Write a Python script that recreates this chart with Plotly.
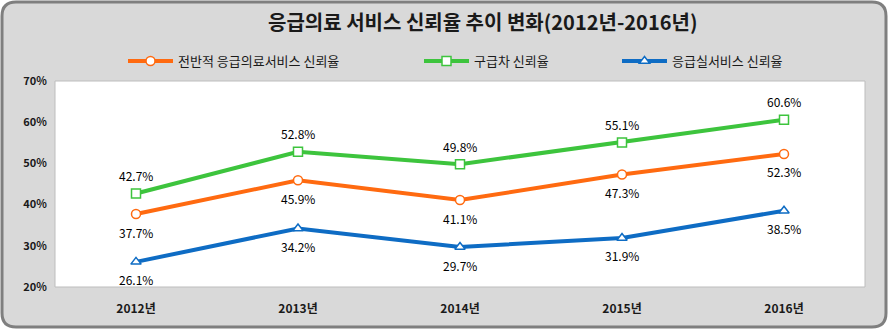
import plotly.graph_objects as go

# Survey years and trust rates (%)
years = ["2012년", "2013년", "2014년", "2015년", "2016년"]
overall_trust = [37.7, 45.9, 41.1, 47.3, 52.3]
ambulance_trust = [42.7, 52.8, 49.8, 55.1, 60.6]
er_trust = [26.1, 34.2, 29.7, 31.9, 38.5]

series_names = ["전반적 응급의료서비스 신뢰율", "구급차 신뢰율", "응급실서비스 신뢰율"]
series_values = [overall_trust, ambulance_trust, er_trust]
series_colors = ["#FF6A10", "#3DC43D", "#0E6CC4"]
series_symbols = ["circle", "square", "triangle-up"]
label_shift = [-18, 18, -18]
legend_ids = ["legend", "legend2", "legend3"]
legend_left_px = [123, 419, 617]

W, H = 889, 330
ML, MR, MT, MB = 55, 24, 81, 43
PW, PH = W - ML - MR, H - MT - MB

FONT = "Noto Sans CJK KR"


def px_x(px):
    return (px - ML) / PW


def px_y(py):
    return (H - MB - py) / PH


fig = go.Figure()

for name, vals, col, sym, lg in zip(series_names, series_values, series_colors,
                                    series_symbols, legend_ids):
    fig.add_trace(go.Scatter(
        x=years, y=vals, name=name, mode="lines+markers", legend=lg,
        line=dict(color=col, width=4),
        marker=dict(symbol=sym, size=9, color="white", line=dict(color=col, width=1.5)),
        hoverinfo="skip",
    ))

annotations = []
for vals, shift in zip(series_values, label_shift):
    for x, v in zip(years, vals):
        annotations.append(dict(
            x=x, y=v, xref="x", yref="y", text=f"{v:.1f}%", showarrow=False,
            yshift=shift, font=dict(family=FONT, size=12, color="#000000"),
        ))

annotations.append(dict(
    x=px_x(483), y=px_y(22), xref="paper", yref="paper",
    text="<b>응급의료 서비스 신뢰율 추이 변화(2012년-2016년)</b>", showarrow=False,
    font=dict(family=FONT, size=20, color="#1a1a1a"), xanchor="center", yanchor="middle",
))

# Rounded outer panel
x0, x1, y0, y1, r = 2, 886, 2, 327, 14
path = (
    f"M {px_x(x0 + r)},{px_y(y0)} L {px_x(x1 - r)},{px_y(y0)} "
    f"Q {px_x(x1)},{px_y(y0)} {px_x(x1)},{px_y(y0 + r)} "
    f"L {px_x(x1)},{px_y(y1 - r)} Q {px_x(x1)},{px_y(y1)} {px_x(x1 - r)},{px_y(y1)} "
    f"L {px_x(x0 + r)},{px_y(y1)} Q {px_x(x0)},{px_y(y1)} {px_x(x0)},{px_y(y1 - r)} "
    f"L {px_x(x0)},{px_y(y0 + r)} Q {px_x(x0)},{px_y(y0)} {px_x(x0 + r)},{px_y(y0)} Z"
)
shapes = [
    dict(type="path", path=path, xref="paper", yref="paper", layer="below",
         fillcolor="#D9D9D9", line=dict(color="#7F7F7F", width=3)),
    dict(type="rect", x0=0, x1=1, y0=0, y1=1, xref="paper", yref="paper", layer="below",
         fillcolor="white", line=dict(color="#BDBDBD", width=1)),
]

legend_style = dict(
    orientation="h", xanchor="left", yanchor="middle", itemwidth=45,
    font=dict(family=FONT, size=13, color="#1a1a1a"),
    bgcolor="rgba(0,0,0,0)",
)
legend_layout = {}
for lg, lx in zip(legend_ids, legend_left_px):
    legend_layout[lg] = dict(legend_style, x=px_x(lx), y=px_y(61))

fig.update_layout(
    width=W, height=H,
    margin=dict(l=ML, r=MR, t=MT, b=MB),
    paper_bgcolor="white", plot_bgcolor="rgba(0,0,0,0)",
    font=dict(family=FONT, color="#1a1a1a"),
    showlegend=True,
    xaxis=dict(
        type="category", range=[-0.5, 4.5], showgrid=False, zeroline=False,
        showline=False, ticks="outside", ticklen=11, tickcolor="rgba(0,0,0,0)",
        tickfont=dict(family=FONT, size=12, color="#1a1a1a", weight="bold"),
    ),
    yaxis=dict(
        range=[20, 70], dtick=10, ticksuffix="%", showgrid=False, zeroline=False,
        showline=False, ticks="outside", ticklen=5, tickcolor="rgba(0,0,0,0)",
        tickfont=dict(family=FONT, size=11, color="#1a1a1a", weight="bold"),
    ),
    annotations=annotations,
    shapes=shapes,
    **legend_layout,
)

fig.write_html("out.html")
